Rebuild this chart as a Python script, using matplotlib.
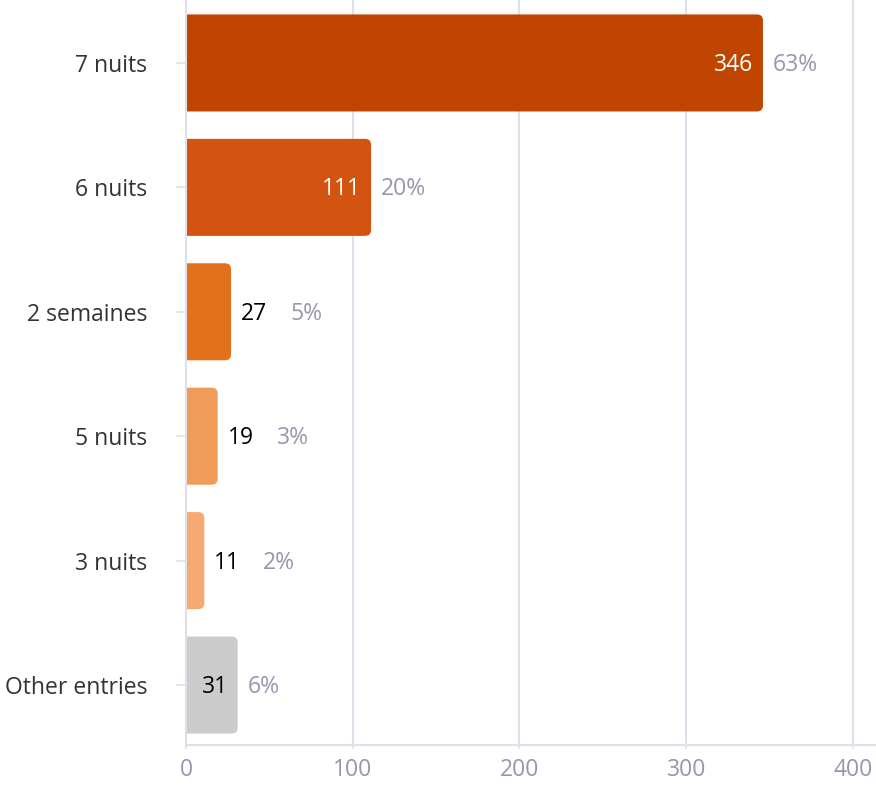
import matplotlib.pyplot as plt
from matplotlib.patches import FancyBboxPatch

categories = ['7 nuits', '6 nuits', '2 semaines', '5 nuits', '3 nuits', 'Other entries']
counts = [346, 111, 27, 19, 11, 31]
percents = ['63%', '20%', '5%', '3%', '2%', '6%']
bar_colors = ['#BF4500', '#D35311', '#E2711D', '#EF9B5A', '#F4AA72', '#CCCCCC']
inside = [True, True, False, False, False, True]
inside_text = ['white', 'white', 'black', 'black', 'black', 'black']

plt.rcParams['font.family'] = ['Open Sans', 'DejaVu Sans']
FS = 16.5

fig = plt.figure(figsize=(8.76, 7.86), dpi=100)
ax = fig.add_axes([186 / 876, 1 - 745 / 786, 1 - 186 / 876, 745 / 786])

ypos = list(range(len(categories)))
bars = ax.barh(ypos, counts, height=0.78, color=bar_colors, zorder=2)

ax.set_xlim(0, 413.8)
ax.set_ylim(5.482, -0.506)

# px -> data conversion for rounded ends
fig.canvas.draw()
p0 = ax.transData.transform((0, 0))
p1 = ax.transData.transform((1, 1))
sx = abs(p1[0] - p0[0])
sy = abs(p1[1] - p0[1])
r = 6 / sx
for b in bars:
    x, y, w, h = b.get_x(), b.get_y(), b.get_width(), b.get_height()
    c = b.get_facecolor()
    b.set_visible(False)
    # left corners pushed past x=0 so they get clipped off
    ax.add_patch(FancyBboxPatch((x - 2 * r, y), w + 2 * r, h,
                                boxstyle='round,pad=0,rounding_size=%f' % r,
                                mutation_aspect=sx / sy, fc=c, ec='none', zorder=2))

off = 10 / sx
gap = 49 / sx
dy = 2 / sy
for i, (v, p) in enumerate(zip(counts, percents)):
    yy = i + dy
    if inside[i]:
        ax.text(v - off, yy, str(v), ha='right', va='center', fontsize=FS,
                color=inside_text[i], zorder=3)
        ax.text(v + off, yy, p, ha='left', va='center', fontsize=FS, color='#9696AE')
    else:
        ax.text(v + off, yy, str(v), ha='left', va='center', fontsize=FS, color='black')
        ax.text(v + off + gap, yy, p, ha='left', va='center', fontsize=FS, color='#9696AE')

ax.set_yticks(ypos)
ax.set_yticklabels(categories, fontsize=FS, color='#333333')
ax.set_xticks([0, 100, 200, 300, 400])
ax.tick_params(axis='y', length=7, width=1.2, color='#E0E0EC', pad=21)
ax.tick_params(axis='x', length=3, width=1.2, color='#E0E0EC', labelsize=FS,
               labelcolor='#9696AE', pad=6)

ax.grid(axis='x', color='#E0E0EC', linewidth=1.5, zorder=0)
ax.set_axisbelow(True)
for s in ['top', 'right']:
    ax.spines[s].set_visible(False)
for s in ['left', 'bottom']:
    ax.spines[s].set_color('#E0E0EC')
    ax.spines[s].set_linewidth(1.5)

fig.savefig('out.png', dpi=100)
